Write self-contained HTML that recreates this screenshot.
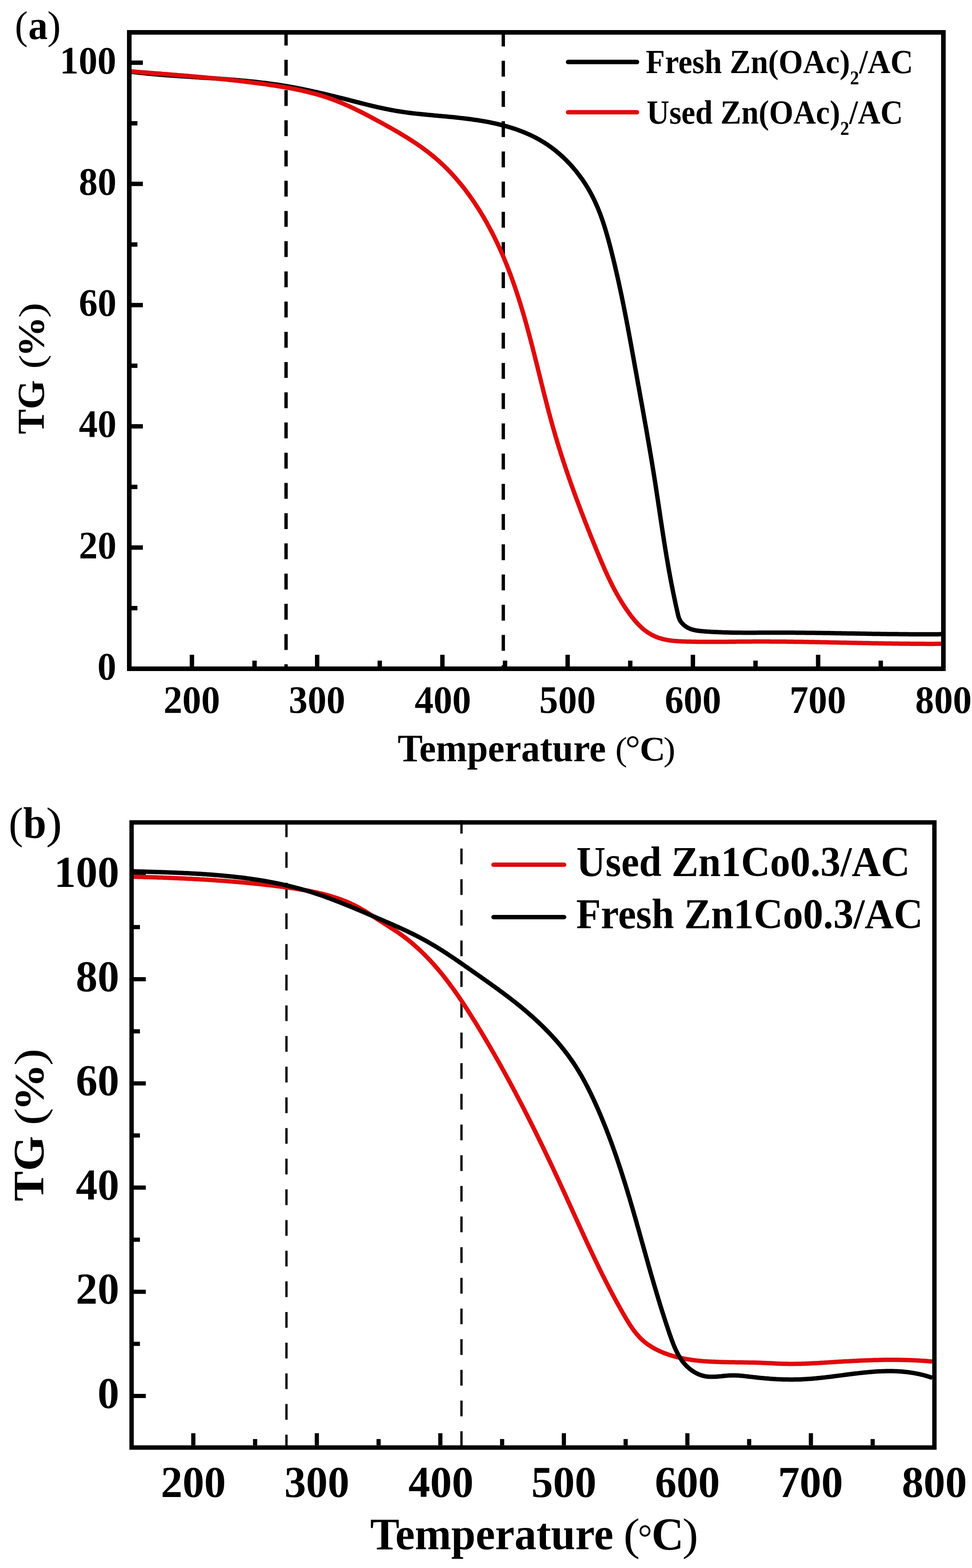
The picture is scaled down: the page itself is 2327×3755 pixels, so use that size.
<!DOCTYPE html>
<html><head><meta charset="utf-8"><title>TG curves</title>
<style>html,body{margin:0;padding:0;background:#fff;}svg{display:block;}</style>
</head><body>
<svg xmlns="http://www.w3.org/2000/svg" width="2327" height="3755" viewBox="0 0 2327 3755">
<rect width="2327" height="3755" fill="#fff"/>
<g stroke="#000" stroke-width="8" fill="none">
<line x1="684.8" y1="72" x2="684.8" y2="1601" stroke-dasharray="38 34.37" stroke-dashoffset="1"/>
<line x1="1204.9" y1="73.15" x2="1204.9" y2="1601" stroke-dasharray="38 34.37"/>
</g>
<path d="M310.0,171.5 L314.0,172.0 L317.9,172.4 L321.9,172.9 L325.8,173.3 L329.8,173.8 L333.7,174.2 L337.7,174.6 L341.7,175.0 L345.6,175.4 L349.6,175.8 L353.6,176.2 L357.5,176.6 L361.5,177.0 L365.5,177.3 L369.5,177.7 L373.4,178.0 L377.4,178.4 L381.4,178.7 L385.4,179.0 L389.4,179.3 L393.3,179.7 L397.3,180.0 L401.3,180.3 L405.3,180.6 L409.3,180.9 L413.3,181.1 L417.3,181.4 L421.3,181.7 L425.3,182.0 L429.2,182.3 L433.2,182.5 L437.2,182.8 L441.2,183.1 L445.2,183.3 L449.2,183.6 L453.2,183.8 L457.2,184.1 L461.2,184.4 L465.2,184.6 L469.2,184.9 L473.2,185.1 L477.2,185.4 L481.2,185.7 L485.2,185.9 L489.2,186.2 L493.2,186.4 L497.2,186.7 L501.2,187.0 L505.2,187.2 L509.2,187.5 L513.2,187.8 L517.2,188.0 L521.2,188.3 L525.2,188.6 L529.2,188.9 L533.2,189.2 L537.2,189.5 L541.1,189.8 L545.1,190.1 L549.1,190.4 L553.1,190.7 L557.1,191.0 L561.1,191.3 L565.1,191.7 L569.1,192.0 L573.0,192.3 L577.0,192.7 L581.0,193.1 L585.0,193.4 L589.0,193.8 L592.9,194.2 L596.9,194.6 L600.9,195.0 L604.9,195.4 L608.8,195.8 L612.8,196.2 L616.8,196.7 L620.7,197.1 L624.7,197.6 L628.7,198.1 L632.6,198.5 L636.6,199.0 L640.5,199.5 L644.5,200.1 L648.4,200.6 L652.4,201.1 L656.3,201.7 L660.3,202.2 L664.2,202.8 L668.1,203.4 L672.1,204.0 L676.0,204.7 L679.9,205.3 L683.9,205.9 L687.8,206.6 L691.7,207.3 L695.6,208.0 L699.6,208.7 L703.5,209.4 L707.4,210.1 L711.3,210.9 L715.2,211.7 L719.1,212.4 L723.0,213.2 L726.9,214.0 L730.8,214.8 L734.7,215.6 L738.6,216.4 L742.5,217.3 L746.4,218.1 L750.3,219.0 L754.2,219.9 L758.1,220.7 L761.9,221.6 L765.8,222.5 L769.7,223.4 L773.6,224.3 L777.5,225.2 L781.4,226.1 L785.3,227.1 L789.1,228.0 L793.0,229.0 L796.9,229.9 L800.8,230.9 L804.7,231.8 L808.5,232.8 L812.4,233.8 L816.3,234.7 L820.2,235.7 L824.0,236.7 L827.9,237.7 L831.8,238.7 L835.7,239.7 L839.6,240.7 L843.4,241.6 L847.3,242.6 L851.2,243.6 L855.1,244.6 L859.0,245.6 L862.8,246.6 L866.7,247.6 L870.6,248.6 L874.5,249.5 L878.4,250.5 L882.3,251.5 L886.1,252.4 L890.0,253.3 L893.9,254.3 L897.8,255.2 L901.7,256.1 L905.6,257.0 L909.5,257.8 L913.4,258.7 L917.3,259.5 L921.2,260.3 L925.1,261.2 L929.0,261.9 L932.9,262.7 L936.8,263.5 L940.7,264.2 L944.6,264.9 L948.6,265.6 L952.5,266.2 L956.4,266.8 L960.3,267.4 L964.2,268.0 L968.2,268.6 L972.1,269.1 L976.0,269.7 L980.0,270.2 L983.9,270.7 L987.8,271.2 L991.8,271.6 L995.7,272.1 L999.7,272.5 L1003.6,272.9 L1007.6,273.3 L1011.5,273.7 L1015.5,274.1 L1019.4,274.5 L1023.4,274.9 L1027.4,275.3 L1031.3,275.6 L1035.3,276.0 L1039.3,276.4 L1043.2,276.7 L1047.2,277.1 L1051.2,277.5 L1055.2,277.8 L1059.1,278.2 L1063.1,278.5 L1067.1,278.9 L1071.1,279.3 L1075.1,279.7 L1079.1,280.0 L1083.1,280.4 L1087.1,280.8 L1091.1,281.3 L1095.1,281.7 L1099.1,282.1 L1103.1,282.6 L1107.1,283.0 L1111.1,283.5 L1115.1,284.0 L1119.1,284.5 L1123.1,285.0 L1127.1,285.5 L1131.1,286.1 L1135.1,286.7 L1139.1,287.2 L1143.1,287.8 L1147.1,288.5 L1151.1,289.1 L1155.1,289.8 L1159.1,290.5 L1163.0,291.2 L1167.0,291.9 L1171.0,292.7 L1174.9,293.5 L1178.9,294.3 L1182.8,295.2 L1186.7,296.0 L1190.6,296.9 L1194.5,297.8 L1198.4,298.8 L1202.3,299.8 L1206.2,300.8 L1210.0,301.8 L1213.9,302.9 L1217.7,304.0 L1221.5,305.2 L1225.3,306.3 L1229.1,307.6 L1232.9,308.8 L1236.7,310.1 L1240.4,311.4 L1244.1,312.8 L1247.8,314.2 L1251.5,315.6 L1255.2,317.1 L1258.8,318.6 L1262.5,320.2 L1266.1,321.8 L1269.7,323.4 L1273.2,325.1 L1276.8,326.8 L1280.3,328.6 L1283.8,330.4 L1287.3,332.3 L1290.7,334.2 L1294.1,336.2 L1297.5,338.2 L1300.9,340.2 L1304.3,342.3 L1307.6,344.5 L1310.9,346.7 L1314.2,349.0 L1317.4,351.3 L1320.6,353.6 L1323.8,356.0 L1327.0,358.4 L1330.1,360.9 L1333.2,363.4 L1336.2,366.0 L1339.3,368.6 L1342.3,371.3 L1345.3,374.0 L1348.2,376.7 L1351.1,379.4 L1354.0,382.2 L1356.8,385.1 L1359.6,388.0 L1362.4,390.9 L1365.2,393.8 L1367.9,396.8 L1370.5,399.8 L1373.2,402.9 L1375.8,406.0 L1378.4,409.1 L1380.9,412.2 L1383.4,415.4 L1385.8,418.6 L1388.2,421.8 L1390.6,425.1 L1393.0,428.3 L1395.3,431.6 L1397.5,435.0 L1399.8,438.3 L1401.9,441.7 L1404.1,445.1 L1406.2,448.5 L1408.2,452.0 L1410.3,455.5 L1412.2,458.9 L1414.2,462.5 L1416.1,466.0 L1417.9,469.5 L1419.7,473.1 L1421.5,476.7 L1423.2,480.2 L1424.9,483.9 L1426.5,487.5 L1428.1,491.1 L1429.7,494.8 L1431.3,498.4 L1432.8,502.1 L1434.2,505.8 L1435.7,509.5 L1437.1,513.2 L1438.5,517.0 L1439.8,520.7 L1441.2,524.4 L1442.5,528.2 L1443.7,532.0 L1445.0,535.8 L1446.2,539.5 L1447.4,543.3 L1448.6,547.1 L1449.8,551.0 L1450.9,554.8 L1452.0,558.6 L1453.1,562.4 L1454.2,566.3 L1455.3,570.1 L1456.4,574.0 L1457.4,577.8 L1458.4,581.7 L1459.5,585.5 L1460.5,589.4 L1461.5,593.3 L1462.5,597.1 L1463.5,601.0 L1464.4,604.9 L1465.4,608.8 L1466.4,612.6 L1467.3,616.5 L1468.3,620.4 L1469.2,624.3 L1470.2,628.1 L1471.1,632.0 L1472.0,635.9 L1472.9,639.8 L1473.8,643.7 L1474.7,647.6 L1475.6,651.5 L1476.5,655.4 L1477.4,659.3 L1478.3,663.2 L1479.2,667.1 L1480.0,671.0 L1480.9,674.9 L1481.7,678.8 L1482.6,682.7 L1483.4,686.6 L1484.3,690.5 L1485.1,694.4 L1485.9,698.3 L1486.8,702.2 L1487.6,706.1 L1488.4,710.0 L1489.2,713.9 L1490.0,717.8 L1490.8,721.8 L1491.6,725.7 L1492.4,729.6 L1493.2,733.5 L1493.9,737.4 L1494.7,741.4 L1495.5,745.3 L1496.3,749.2 L1497.0,753.1 L1497.8,757.0 L1498.6,761.0 L1499.3,764.9 L1500.1,768.8 L1500.8,772.7 L1501.6,776.7 L1502.3,780.6 L1503.1,784.5 L1503.8,788.5 L1504.5,792.4 L1505.3,796.3 L1506.0,800.2 L1506.7,804.2 L1507.5,808.1 L1508.2,812.0 L1508.9,816.0 L1509.6,819.9 L1510.4,823.8 L1511.1,827.8 L1511.8,831.7 L1512.5,835.6 L1513.2,839.6 L1513.9,843.5 L1514.6,847.4 L1515.4,851.4 L1516.1,855.3 L1516.8,859.2 L1517.5,863.2 L1518.2,867.1 L1518.9,871.0 L1519.6,875.0 L1520.3,878.9 L1521.0,882.8 L1521.7,886.8 L1522.5,890.7 L1523.2,894.6 L1523.9,898.6 L1524.6,902.5 L1525.3,906.4 L1526.0,910.4 L1526.7,914.3 L1527.4,918.2 L1528.1,922.2 L1528.9,926.1 L1529.6,930.0 L1530.3,934.0 L1531.0,937.9 L1531.7,941.8 L1532.4,945.8 L1533.1,949.7 L1533.8,953.6 L1534.5,957.6 L1535.3,961.5 L1536.0,965.4 L1536.7,969.4 L1537.4,973.3 L1538.1,977.2 L1538.8,981.2 L1539.5,985.1 L1540.2,989.0 L1540.9,993.0 L1541.6,996.9 L1542.3,1000.8 L1543.0,1004.8 L1543.7,1008.7 L1544.4,1012.6 L1545.1,1016.6 L1545.8,1020.5 L1546.5,1024.4 L1547.2,1028.4 L1547.9,1032.3 L1548.6,1036.2 L1549.3,1040.2 L1549.9,1044.1 L1550.6,1048.0 L1551.3,1052.0 L1552.0,1055.9 L1552.7,1059.8 L1553.4,1063.8 L1554.0,1067.7 L1554.7,1071.6 L1555.4,1075.6 L1556.0,1079.5 L1556.7,1083.4 L1557.4,1087.4 L1558.0,1091.3 L1558.7,1095.3 L1559.4,1099.2 L1560.0,1103.1 L1560.7,1107.1 L1561.3,1111.0 L1562.0,1114.9 L1562.6,1118.9 L1563.2,1122.8 L1563.9,1126.8 L1564.5,1130.7 L1565.1,1134.7 L1565.8,1138.6 L1566.4,1142.5 L1567.0,1146.5 L1567.6,1150.4 L1568.3,1154.4 L1568.9,1158.3 L1569.5,1162.3 L1570.1,1166.2 L1570.7,1170.1 L1571.3,1174.1 L1571.9,1178.0 L1572.5,1182.0 L1573.1,1185.9 L1573.7,1189.9 L1574.3,1193.8 L1574.9,1197.8 L1575.5,1201.7 L1576.1,1205.7 L1576.7,1209.6 L1577.3,1213.6 L1577.9,1217.5 L1578.5,1221.5 L1579.1,1225.4 L1579.6,1229.4 L1580.2,1233.3 L1580.8,1237.3 L1581.4,1241.2 L1582.0,1245.2 L1582.6,1249.1 L1583.2,1253.1 L1583.8,1257.0 L1584.4,1261.0 L1585.0,1264.9 L1585.6,1268.9 L1586.2,1272.8 L1586.8,1276.8 L1587.4,1280.7 L1588.1,1284.7 L1588.7,1288.6 L1589.3,1292.5 L1589.9,1296.5 L1590.5,1300.4 L1591.2,1304.4 L1591.8,1308.3 L1592.4,1312.3 L1593.1,1316.2 L1593.7,1320.2 L1594.4,1324.1 L1595.0,1328.1 L1595.7,1332.0 L1596.3,1335.9 L1597.0,1339.9 L1597.7,1343.8 L1598.4,1347.8 L1599.0,1351.7 L1599.7,1355.6 L1600.4,1359.6 L1601.1,1363.5 L1601.8,1367.5 L1602.5,1371.4 L1603.3,1375.3 L1604.0,1379.3 L1604.7,1383.2 L1605.4,1387.1 L1606.2,1391.1 L1606.9,1395.0 L1607.7,1398.9 L1608.5,1402.9 L1609.3,1406.8 L1610.0,1410.7 L1610.8,1414.6 L1611.6,1418.6 L1612.4,1422.5 L1613.2,1426.4 L1614.0,1430.3 L1614.9,1434.2 L1615.7,1438.1 L1616.5,1442.0 L1617.3,1445.9 L1618.2,1449.7 L1619.0,1453.6 L1619.9,1457.4 L1620.7,1461.3 L1621.6,1465.1 L1622.5,1468.9 L1623.3,1472.7 L1624.3,1476.5 L1625.5,1480.2 L1627.0,1483.8 L1628.8,1487.2 L1631.2,1490.5 L1633.9,1493.6 L1636.9,1496.5 L1640.2,1499.2 L1643.6,1501.5 L1647.2,1503.6 L1650.9,1505.3 L1654.6,1506.8 L1658.4,1507.9 L1662.2,1508.9 L1666.1,1509.7 L1670.0,1510.3 L1674.0,1510.8 L1677.9,1511.2 L1681.9,1511.6 L1685.8,1511.9 L1689.8,1512.2 L1693.8,1512.5 L1697.7,1512.7 L1701.7,1513.0 L1705.7,1513.2 L1709.6,1513.4 L1713.6,1513.6 L1717.6,1513.8 L1721.6,1514.0 L1725.6,1514.1 L1729.5,1514.3 L1733.5,1514.4 L1737.5,1514.5 L1741.5,1514.6 L1745.5,1514.7 L1749.5,1514.8 L1753.5,1514.9 L1757.5,1515.0 L1761.5,1515.0 L1765.5,1515.1 L1769.4,1515.1 L1773.4,1515.1 L1777.4,1515.2 L1781.4,1515.2 L1785.4,1515.2 L1789.4,1515.2 L1793.4,1515.2 L1797.4,1515.2 L1801.4,1515.2 L1805.4,1515.2 L1809.4,1515.2 L1813.4,1515.1 L1817.4,1515.1 L1821.5,1515.1 L1825.5,1515.1 L1829.5,1515.1 L1833.5,1515.1 L1837.5,1515.0 L1841.5,1515.0 L1845.5,1515.0 L1849.5,1515.0 L1853.5,1515.0 L1857.5,1515.0 L1861.5,1515.0 L1865.5,1515.0 L1869.5,1515.0 L1873.5,1515.0 L1877.5,1515.0 L1881.5,1515.0 L1885.5,1515.0 L1889.5,1515.1 L1893.5,1515.1 L1897.5,1515.1 L1901.5,1515.1 L1905.5,1515.2 L1909.5,1515.2 L1913.5,1515.2 L1917.5,1515.3 L1921.4,1515.3 L1925.4,1515.3 L1929.4,1515.4 L1933.4,1515.4 L1937.4,1515.5 L1941.4,1515.5 L1945.4,1515.6 L1949.4,1515.6 L1953.4,1515.7 L1957.4,1515.7 L1961.4,1515.8 L1965.4,1515.8 L1969.4,1515.9 L1973.4,1516.0 L1977.4,1516.0 L1981.4,1516.1 L1985.4,1516.1 L1989.4,1516.2 L1993.4,1516.3 L1997.3,1516.3 L2001.3,1516.4 L2005.3,1516.5 L2009.3,1516.5 L2013.3,1516.6 L2017.3,1516.7 L2021.3,1516.7 L2025.3,1516.8 L2029.3,1516.9 L2033.3,1516.9 L2037.3,1517.0 L2041.3,1517.1 L2045.3,1517.1 L2049.3,1517.2 L2053.2,1517.3 L2057.2,1517.3 L2061.2,1517.4 L2065.2,1517.5 L2069.2,1517.5 L2073.2,1517.6 L2077.2,1517.7 L2081.2,1517.7 L2085.2,1517.8 L2089.2,1517.9 L2093.2,1517.9 L2097.2,1518.0 L2101.2,1518.0 L2105.2,1518.1 L2109.1,1518.2 L2113.1,1518.2 L2117.1,1518.3 L2121.1,1518.3 L2125.1,1518.4 L2129.1,1518.4 L2133.1,1518.5 L2137.1,1518.5 L2141.1,1518.6 L2145.1,1518.6 L2149.1,1518.6 L2153.1,1518.7 L2157.1,1518.7 L2161.1,1518.8 L2165.1,1518.8 L2169.1,1518.8 L2173.0,1518.8 L2177.0,1518.9 L2181.0,1518.9 L2185.0,1518.9 L2189.0,1518.9 L2193.0,1518.9 L2197.0,1519.0 L2201.0,1519.0 L2205.0,1519.0 L2209.0,1519.0 L2213.0,1519.0 L2217.0,1519.0 L2221.0,1519.0 L2225.0,1519.0 L2229.0,1518.9 L2233.0,1518.9 L2237.0,1518.9 L2241.0,1518.9 L2245.0,1518.9 L2249.0,1518.8 L2253.0,1518.8" fill="none" stroke="#000" stroke-width="10.5" stroke-linejoin="round"/>
<path d="M310.0,170.6 L314.0,170.9 L318.0,171.2 L322.0,171.6 L326.0,171.9 L329.9,172.2 L333.9,172.5 L337.9,172.9 L341.9,173.2 L345.9,173.5 L349.9,173.8 L353.9,174.1 L357.9,174.4 L361.8,174.8 L365.8,175.1 L369.8,175.4 L373.8,175.7 L377.8,176.0 L381.8,176.3 L385.8,176.6 L389.7,177.0 L393.7,177.3 L397.7,177.6 L401.7,177.9 L405.7,178.2 L409.7,178.6 L413.6,178.9 L417.6,179.2 L421.6,179.5 L425.6,179.9 L429.6,180.2 L433.5,180.5 L437.5,180.8 L441.5,181.2 L445.5,181.5 L449.5,181.8 L453.5,182.2 L457.4,182.5 L461.4,182.9 L465.4,183.2 L469.4,183.6 L473.3,183.9 L477.3,184.3 L481.3,184.6 L485.3,185.0 L489.3,185.3 L493.2,185.7 L497.2,186.1 L501.2,186.5 L505.2,186.8 L509.1,187.2 L513.1,187.6 L517.1,188.0 L521.1,188.4 L525.0,188.8 L529.0,189.2 L533.0,189.6 L537.0,190.0 L540.9,190.4 L544.9,190.8 L548.9,191.2 L552.8,191.7 L556.8,192.1 L560.8,192.5 L564.8,193.0 L568.7,193.4 L572.7,193.9 L576.7,194.3 L580.6,194.8 L584.6,195.3 L588.6,195.7 L592.5,196.2 L596.5,196.7 L600.5,197.2 L604.4,197.7 L608.4,198.2 L612.4,198.7 L616.3,199.2 L620.3,199.8 L624.3,200.3 L628.2,200.8 L632.2,201.4 L636.2,201.9 L640.1,202.5 L644.1,203.1 L648.1,203.7 L652.0,204.2 L656.0,204.8 L659.9,205.4 L663.9,206.1 L667.9,206.7 L671.8,207.3 L675.8,208.0 L679.7,208.6 L683.6,209.3 L687.6,210.0 L691.5,210.7 L695.5,211.4 L699.4,212.2 L703.3,212.9 L707.2,213.7 L711.1,214.5 L715.1,215.3 L719.0,216.1 L722.9,217.0 L726.7,217.9 L730.6,218.8 L734.5,219.7 L738.4,220.6 L742.3,221.6 L746.1,222.6 L750.0,223.6 L753.8,224.6 L757.6,225.7 L761.5,226.8 L765.3,227.9 L769.1,229.0 L772.9,230.2 L776.7,231.4 L780.5,232.6 L784.2,233.9 L788.0,235.2 L791.7,236.5 L795.5,237.9 L799.2,239.3 L802.9,240.7 L806.6,242.1 L810.3,243.6 L814.0,245.1 L817.7,246.6 L821.4,248.2 L825.0,249.8 L828.7,251.4 L832.3,253.0 L836.0,254.6 L839.6,256.3 L843.2,258.0 L846.9,259.7 L850.5,261.4 L854.1,263.2 L857.7,264.9 L861.3,266.7 L864.8,268.5 L868.4,270.3 L872.0,272.2 L875.5,274.0 L879.1,275.9 L882.7,277.7 L886.2,279.6 L889.8,281.5 L893.3,283.4 L896.8,285.3 L900.4,287.2 L903.9,289.1 L907.4,291.0 L911.0,292.9 L914.5,294.8 L918.0,296.8 L921.5,298.7 L925.0,300.7 L928.5,302.6 L932.0,304.6 L935.5,306.5 L939.0,308.5 L942.4,310.5 L945.9,312.5 L949.4,314.5 L952.8,316.5 L956.3,318.6 L959.7,320.6 L963.1,322.7 L966.5,324.7 L969.9,326.8 L973.3,328.9 L976.7,331.0 L980.1,333.1 L983.4,335.3 L986.8,337.5 L990.1,339.6 L993.4,341.8 L996.7,344.0 L1000.0,346.3 L1003.2,348.5 L1006.5,350.8 L1009.7,353.1 L1012.9,355.4 L1016.1,357.8 L1019.3,360.2 L1022.5,362.5 L1025.6,365.0 L1028.8,367.4 L1031.9,369.9 L1034.9,372.4 L1038.0,374.9 L1041.1,377.4 L1044.1,380.0 L1047.1,382.6 L1050.1,385.2 L1053.0,387.9 L1055.9,390.6 L1058.8,393.3 L1061.7,396.0 L1064.6,398.8 L1067.4,401.6 L1070.3,404.4 L1073.1,407.3 L1075.8,410.1 L1078.6,413.0 L1081.3,416.0 L1084.0,418.9 L1086.7,421.9 L1089.4,424.9 L1092.0,427.9 L1094.6,430.9 L1097.2,434.0 L1099.8,437.1 L1102.4,440.2 L1104.9,443.3 L1107.4,446.4 L1109.9,449.6 L1112.4,452.7 L1114.8,455.9 L1117.2,459.2 L1119.6,462.4 L1122.0,465.6 L1124.4,468.9 L1126.7,472.2 L1129.0,475.5 L1131.3,478.8 L1133.6,482.1 L1135.9,485.4 L1138.1,488.8 L1140.3,492.2 L1142.5,495.5 L1144.7,498.9 L1146.8,502.3 L1149.0,505.7 L1151.1,509.2 L1153.2,512.6 L1155.2,516.0 L1157.3,519.5 L1159.3,522.9 L1161.3,526.4 L1163.3,529.9 L1165.3,533.4 L1167.2,536.9 L1169.1,540.4 L1171.0,543.9 L1172.9,547.4 L1174.8,551.0 L1176.7,554.5 L1178.5,558.0 L1180.3,561.6 L1182.1,565.2 L1183.9,568.7 L1185.6,572.3 L1187.4,575.9 L1189.1,579.5 L1190.8,583.1 L1192.5,586.7 L1194.2,590.3 L1195.8,593.9 L1197.5,597.6 L1199.1,601.2 L1200.7,604.8 L1202.3,608.5 L1203.9,612.2 L1205.4,615.8 L1207.0,619.5 L1208.5,623.2 L1210.0,626.8 L1211.5,630.5 L1213.0,634.2 L1214.5,637.9 L1215.9,641.6 L1217.4,645.3 L1218.8,649.1 L1220.2,652.8 L1221.6,656.5 L1223.0,660.3 L1224.4,664.0 L1225.7,667.7 L1227.1,671.5 L1228.4,675.2 L1229.8,679.0 L1231.1,682.8 L1232.4,686.5 L1233.7,690.3 L1234.9,694.1 L1236.2,697.9 L1237.5,701.7 L1238.7,705.4 L1239.9,709.2 L1241.2,713.0 L1242.4,716.8 L1243.6,720.6 L1244.8,724.5 L1246.0,728.3 L1247.1,732.1 L1248.3,735.9 L1249.4,739.7 L1250.6,743.6 L1251.7,747.4 L1252.9,751.2 L1254.0,755.1 L1255.1,758.9 L1256.2,762.7 L1257.3,766.6 L1258.4,770.4 L1259.4,774.3 L1260.5,778.1 L1261.6,782.0 L1262.6,785.9 L1263.7,789.7 L1264.7,793.6 L1265.8,797.4 L1266.8,801.3 L1267.9,805.2 L1268.9,809.0 L1269.9,812.9 L1270.9,816.8 L1271.9,820.7 L1272.9,824.5 L1273.9,828.4 L1274.9,832.3 L1275.9,836.2 L1276.9,840.0 L1277.9,843.9 L1278.9,847.8 L1279.9,851.7 L1280.8,855.6 L1281.8,859.5 L1282.8,863.4 L1283.8,867.2 L1284.7,871.1 L1285.7,875.0 L1286.7,878.9 L1287.6,882.8 L1288.6,886.7 L1289.6,890.6 L1290.5,894.5 L1291.5,898.3 L1292.5,902.2 L1293.4,906.1 L1294.4,910.0 L1295.4,913.9 L1296.3,917.8 L1297.3,921.7 L1298.3,925.5 L1299.2,929.4 L1300.2,933.3 L1301.2,937.2 L1302.2,941.1 L1303.1,945.0 L1304.1,948.8 L1305.1,952.7 L1306.1,956.6 L1307.1,960.5 L1308.1,964.3 L1309.1,968.2 L1310.1,972.1 L1311.1,976.0 L1312.1,979.8 L1313.1,983.7 L1314.1,987.6 L1315.2,991.4 L1316.2,995.3 L1317.2,999.1 L1318.3,1003.0 L1319.3,1006.8 L1320.4,1010.7 L1321.5,1014.5 L1322.5,1018.4 L1323.6,1022.2 L1324.7,1026.1 L1325.8,1029.9 L1326.9,1033.7 L1328.0,1037.6 L1329.1,1041.4 L1330.2,1045.2 L1331.4,1049.1 L1332.5,1052.9 L1333.7,1056.7 L1334.8,1060.5 L1336.0,1064.3 L1337.1,1068.1 L1338.3,1071.9 L1339.5,1075.7 L1340.7,1079.5 L1341.9,1083.3 L1343.1,1087.1 L1344.3,1090.9 L1345.5,1094.7 L1346.7,1098.5 L1348.0,1102.3 L1349.2,1106.1 L1350.5,1109.9 L1351.7,1113.6 L1353.0,1117.4 L1354.2,1121.2 L1355.5,1125.0 L1356.8,1128.7 L1358.1,1132.5 L1359.3,1136.3 L1360.6,1140.1 L1361.9,1143.8 L1363.3,1147.6 L1364.6,1151.3 L1365.9,1155.1 L1367.2,1158.9 L1368.5,1162.6 L1369.9,1166.4 L1371.2,1170.1 L1372.6,1173.9 L1373.9,1177.6 L1375.3,1181.4 L1376.7,1185.1 L1378.0,1188.9 L1379.4,1192.6 L1380.8,1196.4 L1382.2,1200.1 L1383.6,1203.8 L1385.0,1207.6 L1386.4,1211.3 L1387.8,1215.1 L1389.2,1218.8 L1390.6,1222.5 L1392.0,1226.3 L1393.5,1230.0 L1394.9,1233.7 L1396.3,1237.5 L1397.8,1241.2 L1399.2,1244.9 L1400.7,1248.7 L1402.1,1252.4 L1403.6,1256.1 L1405.1,1259.8 L1406.5,1263.6 L1408.0,1267.3 L1409.5,1271.0 L1411.0,1274.7 L1412.4,1278.5 L1413.9,1282.2 L1415.4,1285.9 L1416.9,1289.6 L1418.4,1293.4 L1419.9,1297.1 L1421.4,1300.8 L1423.0,1304.5 L1424.5,1308.3 L1426.0,1312.0 L1427.5,1315.7 L1429.1,1319.4 L1430.6,1323.1 L1432.1,1326.9 L1433.7,1330.6 L1435.2,1334.3 L1436.8,1338.0 L1438.3,1341.7 L1439.9,1345.4 L1441.5,1349.1 L1443.1,1352.8 L1444.7,1356.5 L1446.3,1360.2 L1447.9,1363.9 L1449.6,1367.6 L1451.2,1371.2 L1452.9,1374.9 L1454.6,1378.6 L1456.3,1382.2 L1458.0,1385.8 L1459.8,1389.4 L1461.5,1393.1 L1463.3,1396.7 L1465.1,1400.3 L1466.9,1403.8 L1468.7,1407.4 L1470.6,1410.9 L1472.5,1414.5 L1474.4,1418.0 L1476.3,1421.5 L1478.3,1425.0 L1480.3,1428.5 L1482.3,1432.0 L1484.3,1435.4 L1486.4,1438.8 L1488.5,1442.2 L1490.6,1445.6 L1492.7,1449.0 L1494.9,1452.4 L1497.2,1455.7 L1499.4,1459.0 L1501.7,1462.3 L1504.0,1465.6 L1506.4,1468.8 L1508.8,1472.1 L1511.2,1475.3 L1513.6,1478.4 L1516.2,1481.6 L1518.7,1484.7 L1521.3,1487.7 L1523.9,1490.7 L1526.6,1493.7 L1529.4,1496.5 L1532.2,1499.3 L1535.0,1502.0 L1537.9,1504.7 L1540.9,1507.2 L1543.9,1509.6 L1547.0,1511.9 L1550.2,1514.1 L1553.4,1516.2 L1556.7,1518.2 L1560.1,1520.1 L1563.5,1521.8 L1566.9,1523.5 L1570.4,1525.0 L1574.0,1526.4 L1577.6,1527.7 L1581.3,1528.8 L1585.1,1529.9 L1588.8,1530.8 L1592.7,1531.7 L1596.5,1532.4 L1600.4,1533.1 L1604.3,1533.7 L1608.3,1534.2 L1612.3,1534.6 L1616.3,1535.0 L1620.3,1535.3 L1624.3,1535.6 L1628.4,1535.8 L1632.5,1536.0 L1636.5,1536.2 L1640.6,1536.3 L1644.7,1536.4 L1648.8,1536.5 L1652.8,1536.6 L1656.9,1536.7 L1661.0,1536.8 L1665.0,1536.8 L1669.1,1536.9 L1673.1,1536.9 L1677.2,1537.0 L1681.2,1537.0 L1685.2,1537.0 L1689.3,1537.0 L1693.3,1537.1 L1697.4,1537.1 L1701.4,1537.1 L1705.4,1537.1 L1709.4,1537.1 L1713.4,1537.0 L1717.5,1537.0 L1721.5,1537.0 L1725.5,1537.0 L1729.5,1536.9 L1733.5,1536.9 L1737.5,1536.9 L1741.5,1536.9 L1745.5,1536.8 L1749.5,1536.8 L1753.5,1536.7 L1757.5,1536.7 L1761.5,1536.7 L1765.5,1536.6 L1769.5,1536.6 L1773.5,1536.5 L1777.5,1536.5 L1781.5,1536.5 L1785.5,1536.4 L1789.5,1536.4 L1793.5,1536.4 L1797.5,1536.4 L1801.5,1536.3 L1805.5,1536.3 L1809.5,1536.3 L1813.5,1536.3 L1817.5,1536.3 L1821.5,1536.3 L1825.5,1536.3 L1829.5,1536.3 L1833.5,1536.3 L1837.4,1536.3 L1841.4,1536.3 L1845.4,1536.4 L1849.4,1536.4 L1853.4,1536.4 L1857.4,1536.4 L1861.4,1536.5 L1865.4,1536.5 L1869.4,1536.5 L1873.4,1536.6 L1877.4,1536.6 L1881.4,1536.6 L1885.4,1536.7 L1889.4,1536.7 L1893.3,1536.8 L1897.3,1536.8 L1901.3,1536.9 L1905.3,1536.9 L1909.3,1537.0 L1913.3,1537.0 L1917.3,1537.1 L1921.3,1537.1 L1925.3,1537.2 L1929.3,1537.3 L1933.3,1537.3 L1937.3,1537.4 L1941.3,1537.5 L1945.2,1537.5 L1949.2,1537.6 L1953.2,1537.7 L1957.2,1537.8 L1961.2,1537.8 L1965.2,1537.9 L1969.2,1538.0 L1973.2,1538.1 L1977.2,1538.1 L1981.2,1538.2 L1985.2,1538.3 L1989.2,1538.4 L1993.2,1538.5 L1997.2,1538.5 L2001.1,1538.6 L2005.1,1538.7 L2009.1,1538.8 L2013.1,1538.9 L2017.1,1538.9 L2021.1,1539.0 L2025.1,1539.1 L2029.1,1539.2 L2033.1,1539.3 L2037.1,1539.4 L2041.1,1539.4 L2045.1,1539.5 L2049.1,1539.6 L2053.1,1539.7 L2057.1,1539.8 L2061.1,1539.8 L2065.1,1539.9 L2069.0,1540.0 L2073.0,1540.1 L2077.0,1540.1 L2081.0,1540.2 L2085.0,1540.3 L2089.0,1540.4 L2093.0,1540.4 L2097.0,1540.5 L2101.0,1540.6 L2105.0,1540.7 L2109.0,1540.7 L2113.0,1540.8 L2117.0,1540.9 L2121.0,1540.9 L2125.0,1541.0 L2129.0,1541.1 L2133.0,1541.1 L2137.0,1541.2 L2141.0,1541.2 L2145.0,1541.3 L2149.0,1541.3 L2153.0,1541.4 L2157.0,1541.4 L2161.0,1541.5 L2165.0,1541.5 L2169.0,1541.6 L2173.0,1541.6 L2177.0,1541.6 L2181.0,1541.7 L2185.0,1541.7 L2189.0,1541.7 L2193.0,1541.8 L2197.0,1541.8 L2201.0,1541.8 L2205.0,1541.8 L2209.0,1541.8 L2213.0,1541.8 L2217.0,1541.9 L2221.0,1541.9 L2225.0,1541.9 L2229.0,1541.9 L2233.0,1541.9 L2237.0,1541.9 L2241.0,1541.8 L2245.0,1541.8 L2249.0,1541.8 L2253.0,1541.8" fill="none" stroke="#e00a0c" stroke-width="10.5" stroke-linejoin="round"/>
<rect x="309.5" y="77.5" width="1949.0" height="1524.0" fill="none" stroke="#000" stroke-width="11"/>
<g fill="#000">
<rect x="454.2" y="1568.0" width="10.5" height="28.0"/><rect x="604.1" y="1582.0" width="10.5" height="14.0"/><rect x="754.0" y="1568.0" width="10.5" height="28.0"/><rect x="903.9" y="1582.0" width="10.5" height="14.0"/><rect x="1053.9" y="1568.0" width="10.5" height="28.0"/><rect x="1203.8" y="1582.0" width="10.5" height="14.0"/><rect x="1353.7" y="1568.0" width="10.5" height="28.0"/><rect x="1503.6" y="1582.0" width="10.5" height="14.0"/><rect x="1653.6" y="1568.0" width="10.5" height="28.0"/><rect x="1803.5" y="1582.0" width="10.5" height="14.0"/><rect x="1953.4" y="1568.0" width="10.5" height="28.0"/><rect x="2103.3" y="1582.0" width="10.5" height="14.0"/>
<rect x="315.0" y="1306.0" width="27.0" height="10.5"/><rect x="315.0" y="1015.7" width="27.0" height="10.5"/><rect x="315.0" y="725.4" width="27.0" height="10.5"/><rect x="315.0" y="435.1" width="27.0" height="10.5"/><rect x="315.0" y="144.9" width="27.0" height="10.5"/><rect x="315.0" y="1451.1" width="14.0" height="10.5"/><rect x="315.0" y="1160.8" width="14.0" height="10.5"/><rect x="315.0" y="870.6" width="14.0" height="10.5"/><rect x="315.0" y="580.3" width="14.0" height="10.5"/><rect x="315.0" y="290.0" width="14.0" height="10.5"/>
</g>
<g stroke="#000" stroke-width="5.5" fill="none">
<line x1="685.8" y1="1967" x2="685.8" y2="3466" stroke-dasharray="37.7 35.74"/>
<line x1="1104.8" y1="1964" x2="1104.8" y2="3466" stroke-dasharray="37.7 35.74" stroke-dashoffset="5.4"/>
</g>
<g fill="#000">
<rect x="457.8" y="3432.2" width="10.0" height="29.0"/><rect x="605.7" y="3446.2" width="10.0" height="15.0"/><rect x="753.5" y="3432.2" width="10.0" height="29.0"/><rect x="901.4" y="3446.2" width="10.0" height="15.0"/><rect x="1049.2" y="3432.2" width="10.0" height="29.0"/><rect x="1197.1" y="3446.2" width="10.0" height="15.0"/><rect x="1344.9" y="3432.2" width="10.0" height="29.0"/><rect x="1492.8" y="3446.2" width="10.0" height="15.0"/><rect x="1640.6" y="3432.2" width="10.0" height="29.0"/><rect x="1788.5" y="3446.2" width="10.0" height="15.0"/><rect x="1936.3" y="3432.2" width="10.0" height="29.0"/><rect x="2084.2" y="3446.2" width="10.0" height="15.0"/>
<rect x="320.0" y="3338.0" width="29.0" height="10.0"/><rect x="320.0" y="3088.5" width="29.0" height="10.0"/><rect x="320.0" y="2839.0" width="29.0" height="10.0"/><rect x="320.0" y="2589.5" width="29.0" height="10.0"/><rect x="320.0" y="2340.0" width="29.0" height="10.0"/><rect x="320.0" y="2090.5" width="29.0" height="10.0"/><rect x="320.0" y="3213.2" width="15.0" height="10.0"/><rect x="320.0" y="2963.8" width="15.0" height="10.0"/><rect x="320.0" y="2714.2" width="15.0" height="10.0"/><rect x="320.0" y="2464.8" width="15.0" height="10.0"/><rect x="320.0" y="2215.2" width="15.0" height="10.0"/>
</g>
<path d="M316.0,2099.5 L320.0,2099.6 L324.0,2099.7 L328.0,2099.8 L332.0,2099.9 L336.0,2100.0 L340.0,2100.1 L344.0,2100.2 L348.0,2100.4 L351.9,2100.5 L355.9,2100.6 L359.9,2100.7 L363.9,2100.8 L367.9,2101.0 L371.9,2101.1 L375.9,2101.2 L379.9,2101.4 L383.9,2101.5 L387.9,2101.6 L391.9,2101.8 L395.8,2101.9 L399.8,2102.1 L403.8,2102.2 L407.8,2102.4 L411.8,2102.6 L415.8,2102.7 L419.8,2102.9 L423.8,2103.1 L427.8,2103.2 L431.7,2103.4 L435.7,2103.6 L439.7,2103.8 L443.7,2104.0 L447.7,2104.2 L451.7,2104.4 L455.7,2104.6 L459.6,2104.8 L463.6,2105.0 L467.6,2105.2 L471.6,2105.4 L475.6,2105.6 L479.6,2105.9 L483.6,2106.1 L487.5,2106.3 L491.5,2106.6 L495.5,2106.8 L499.5,2107.1 L503.5,2107.3 L507.5,2107.6 L511.4,2107.8 L515.4,2108.1 L519.4,2108.4 L523.4,2108.7 L527.4,2108.9 L531.3,2109.2 L535.3,2109.5 L539.3,2109.8 L543.3,2110.1 L547.3,2110.4 L551.2,2110.7 L555.2,2111.1 L559.2,2111.4 L563.2,2111.7 L567.2,2112.1 L571.1,2112.4 L575.1,2112.8 L579.1,2113.1 L583.1,2113.5 L587.1,2113.8 L591.0,2114.2 L595.0,2114.6 L599.0,2115.0 L603.0,2115.4 L606.9,2115.8 L610.9,2116.2 L614.9,2116.6 L618.9,2117.0 L622.8,2117.4 L626.8,2117.8 L630.8,2118.3 L634.8,2118.7 L638.7,2119.2 L642.7,2119.6 L646.7,2120.1 L650.7,2120.6 L654.6,2121.0 L658.6,2121.5 L662.6,2122.0 L666.5,2122.5 L670.5,2123.0 L674.5,2123.5 L678.5,2124.0 L682.4,2124.6 L686.4,2125.1 L690.4,2125.7 L694.3,2126.2 L698.3,2126.8 L702.3,2127.4 L706.2,2127.9 L710.2,2128.5 L714.1,2129.2 L718.1,2129.8 L722.0,2130.5 L726.0,2131.1 L729.9,2131.8 L733.9,2132.5 L737.8,2133.2 L741.7,2134.0 L745.6,2134.8 L749.5,2135.6 L753.4,2136.4 L757.3,2137.2 L761.2,2138.1 L765.1,2139.0 L768.9,2139.9 L772.8,2140.9 L776.6,2141.8 L780.4,2142.8 L784.3,2143.9 L788.1,2145.0 L791.9,2146.1 L795.6,2147.2 L799.4,2148.4 L803.2,2149.6 L806.9,2150.9 L810.7,2152.1 L814.4,2153.5 L818.1,2154.8 L821.8,2156.3 L825.4,2157.7 L829.1,2159.2 L832.7,2160.7 L836.4,2162.3 L840.0,2163.9 L843.5,2165.6 L847.1,2167.3 L850.7,2169.1 L854.2,2170.9 L857.7,2172.8 L861.2,2174.7 L864.7,2176.7 L868.1,2178.7 L871.6,2180.7 L875.0,2182.8 L878.4,2184.9 L881.8,2187.1 L885.2,2189.2 L888.6,2191.4 L892.0,2193.6 L895.4,2195.8 L898.8,2198.1 L902.2,2200.3 L905.6,2202.5 L909.0,2204.7 L912.4,2206.9 L915.8,2209.1 L919.2,2211.3 L922.7,2213.5 L926.1,2215.7 L929.5,2217.8 L932.9,2220.0 L936.4,2222.2 L939.8,2224.4 L943.1,2226.6 L946.5,2228.8 L949.9,2231.0 L953.2,2233.3 L956.5,2235.6 L959.8,2237.9 L963.0,2240.2 L966.2,2242.6 L969.4,2245.0 L972.6,2247.5 L975.7,2249.9 L978.8,2252.4 L981.9,2254.9 L985.0,2257.5 L988.0,2260.0 L991.0,2262.6 L994.0,2265.2 L997.0,2267.9 L999.9,2270.5 L1002.8,2273.2 L1005.7,2275.9 L1008.6,2278.6 L1011.4,2281.4 L1014.3,2284.2 L1017.1,2286.9 L1019.8,2289.8 L1022.6,2292.6 L1025.4,2295.5 L1028.1,2298.3 L1030.8,2301.2 L1033.5,2304.2 L1036.1,2307.1 L1038.8,2310.0 L1041.4,2313.0 L1044.0,2316.0 L1046.6,2319.0 L1049.2,2322.0 L1051.7,2325.1 L1054.3,2328.1 L1056.8,2331.2 L1059.3,2334.3 L1061.8,2337.4 L1064.2,2340.5 L1066.7,2343.7 L1069.1,2346.8 L1071.5,2350.0 L1074.0,2353.2 L1076.3,2356.4 L1078.7,2359.6 L1081.1,2362.8 L1083.4,2366.0 L1085.8,2369.2 L1088.1,2372.5 L1090.4,2375.8 L1092.7,2379.0 L1095.0,2382.3 L1097.3,2385.6 L1099.5,2388.9 L1101.8,2392.2 L1104.0,2395.5 L1106.3,2398.9 L1108.5,2402.2 L1110.7,2405.6 L1112.9,2408.9 L1115.1,2412.3 L1117.3,2415.6 L1119.4,2419.0 L1121.6,2422.4 L1123.8,2425.8 L1125.9,2429.2 L1128.1,2432.6 L1130.2,2436.0 L1132.3,2439.4 L1134.4,2442.8 L1136.6,2446.2 L1138.7,2449.6 L1140.8,2453.0 L1142.9,2456.4 L1144.9,2459.9 L1147.0,2463.3 L1149.1,2466.7 L1151.2,2470.1 L1153.3,2473.6 L1155.3,2477.0 L1157.4,2480.4 L1159.4,2483.9 L1161.5,2487.3 L1163.5,2490.8 L1165.5,2494.2 L1167.6,2497.7 L1169.6,2501.1 L1171.6,2504.6 L1173.6,2508.0 L1175.6,2511.5 L1177.6,2515.0 L1179.6,2518.4 L1181.6,2521.9 L1183.6,2525.4 L1185.6,2528.8 L1187.6,2532.3 L1189.6,2535.8 L1191.5,2539.3 L1193.5,2542.7 L1195.5,2546.2 L1197.4,2549.7 L1199.4,2553.2 L1201.3,2556.7 L1203.2,2560.2 L1205.2,2563.7 L1207.1,2567.2 L1209.0,2570.7 L1211.0,2574.2 L1212.9,2577.7 L1214.8,2581.2 L1216.7,2584.7 L1218.6,2588.2 L1220.5,2591.7 L1222.4,2595.2 L1224.3,2598.7 L1226.2,2602.2 L1228.0,2605.8 L1229.9,2609.3 L1231.8,2612.8 L1233.7,2616.3 L1235.5,2619.9 L1237.4,2623.4 L1239.2,2626.9 L1241.1,2630.5 L1242.9,2634.0 L1244.8,2637.5 L1246.6,2641.1 L1248.5,2644.6 L1250.3,2648.1 L1252.1,2651.7 L1254.0,2655.2 L1255.8,2658.8 L1257.6,2662.3 L1259.4,2665.9 L1261.2,2669.4 L1263.0,2673.0 L1264.8,2676.6 L1266.6,2680.1 L1268.4,2683.7 L1270.2,2687.2 L1272.0,2690.8 L1273.8,2694.4 L1275.6,2697.9 L1277.3,2701.5 L1279.1,2705.1 L1280.9,2708.7 L1282.7,2712.2 L1284.4,2715.8 L1286.2,2719.4 L1287.9,2723.0 L1289.7,2726.6 L1291.4,2730.1 L1293.2,2733.7 L1294.9,2737.3 L1296.7,2740.9 L1298.4,2744.5 L1300.2,2748.1 L1301.9,2751.7 L1303.6,2755.3 L1305.3,2758.9 L1307.1,2762.5 L1308.8,2766.1 L1310.5,2769.7 L1312.2,2773.3 L1313.9,2776.9 L1315.7,2780.5 L1317.4,2784.1 L1319.1,2787.7 L1320.8,2791.3 L1322.5,2794.9 L1324.2,2798.5 L1325.9,2802.1 L1327.6,2805.8 L1329.3,2809.4 L1330.9,2813.0 L1332.6,2816.6 L1334.3,2820.2 L1336.0,2823.9 L1337.7,2827.5 L1339.4,2831.1 L1341.0,2834.7 L1342.7,2838.4 L1344.4,2842.0 L1346.0,2845.6 L1347.7,2849.2 L1349.4,2852.9 L1351.0,2856.5 L1352.7,2860.1 L1354.4,2863.8 L1356.0,2867.4 L1357.7,2871.1 L1359.3,2874.7 L1361.0,2878.3 L1362.6,2882.0 L1364.3,2885.6 L1365.9,2889.3 L1367.6,2892.9 L1369.2,2896.5 L1370.9,2900.2 L1372.5,2903.8 L1374.2,2907.5 L1375.8,2911.1 L1377.5,2914.7 L1379.2,2918.4 L1380.8,2922.0 L1382.5,2925.7 L1384.1,2929.3 L1385.8,2932.9 L1387.4,2936.6 L1389.1,2940.2 L1390.8,2943.9 L1392.4,2947.5 L1394.1,2951.1 L1395.8,2954.8 L1397.4,2958.4 L1399.1,2962.0 L1400.8,2965.7 L1402.4,2969.3 L1404.1,2972.9 L1405.8,2976.5 L1407.5,2980.2 L1409.2,2983.8 L1410.9,2987.4 L1412.6,2991.0 L1414.3,2994.7 L1416.0,2998.3 L1417.7,3001.9 L1419.4,3005.5 L1421.1,3009.1 L1422.8,3012.7 L1424.6,3016.3 L1426.3,3019.9 L1428.0,3023.5 L1429.8,3027.1 L1431.5,3030.7 L1433.3,3034.3 L1435.0,3037.9 L1436.8,3041.5 L1438.5,3045.1 L1440.3,3048.7 L1442.1,3052.3 L1443.9,3055.8 L1445.7,3059.4 L1447.5,3063.0 L1449.3,3066.6 L1451.1,3070.1 L1452.9,3073.7 L1454.7,3077.2 L1456.6,3080.8 L1458.4,3084.3 L1460.2,3087.9 L1462.1,3091.4 L1464.0,3095.0 L1465.8,3098.5 L1467.7,3102.0 L1469.6,3105.6 L1471.5,3109.1 L1473.4,3112.6 L1475.3,3116.1 L1477.2,3119.6 L1479.2,3123.1 L1481.1,3126.6 L1483.1,3130.1 L1485.0,3133.6 L1487.0,3137.1 L1489.0,3140.6 L1490.9,3144.0 L1492.9,3147.5 L1495.0,3151.0 L1497.0,3154.4 L1499.0,3157.9 L1501.1,3161.3 L1503.1,3164.7 L1505.2,3168.1 L1507.4,3171.5 L1509.5,3174.8 L1511.8,3178.1 L1514.0,3181.4 L1516.3,3184.6 L1518.7,3187.7 L1521.1,3190.8 L1523.5,3193.9 L1526.1,3196.9 L1528.7,3199.8 L1531.3,3202.7 L1534.1,3205.5 L1536.9,3208.2 L1539.8,3210.8 L1542.8,3213.4 L1545.9,3215.8 L1549.0,3218.2 L1552.3,3220.5 L1555.6,3222.7 L1558.9,3224.8 L1562.3,3226.9 L1565.8,3228.9 L1569.4,3230.8 L1573.0,3232.6 L1576.6,3234.4 L1580.3,3236.1 L1584.0,3237.7 L1587.8,3239.3 L1591.6,3240.8 L1595.4,3242.2 L1599.2,3243.6 L1603.1,3244.9 L1607.0,3246.1 L1610.9,3247.3 L1614.8,3248.4 L1618.8,3249.4 L1622.7,3250.4 L1626.6,3251.3 L1630.5,3252.2 L1634.5,3253.0 L1638.4,3253.8 L1642.3,3254.5 L1646.3,3255.2 L1650.2,3255.8 L1654.1,3256.4 L1658.1,3257.0 L1662.0,3257.5 L1665.9,3257.9 L1669.9,3258.4 L1673.8,3258.8 L1677.8,3259.1 L1681.7,3259.5 L1685.7,3259.8 L1689.6,3260.0 L1693.6,3260.3 L1697.5,3260.5 L1701.5,3260.7 L1705.5,3260.9 L1709.4,3261.1 L1713.4,3261.3 L1717.4,3261.4 L1721.3,3261.6 L1725.3,3261.7 L1729.3,3261.8 L1733.3,3261.9 L1737.3,3262.0 L1741.3,3262.1 L1745.3,3262.2 L1749.3,3262.2 L1753.3,3262.3 L1757.2,3262.3 L1761.2,3262.4 L1765.2,3262.5 L1769.2,3262.5 L1773.2,3262.6 L1777.2,3262.6 L1781.2,3262.7 L1785.2,3262.7 L1789.3,3262.8 L1793.3,3262.9 L1797.3,3262.9 L1801.3,3263.0 L1805.3,3263.1 L1809.3,3263.2 L1813.2,3263.3 L1817.2,3263.4 L1821.2,3263.6 L1825.2,3263.7 L1829.2,3263.9 L1833.2,3264.1 L1837.2,3264.2 L1841.2,3264.4 L1845.2,3264.6 L1849.2,3264.8 L1853.1,3265.0 L1857.1,3265.2 L1861.1,3265.4 L1865.1,3265.6 L1869.1,3265.7 L1873.0,3265.9 L1877.0,3266.0 L1881.0,3266.1 L1885.0,3266.1 L1889.0,3266.2 L1893.0,3266.2 L1896.9,3266.2 L1900.9,3266.2 L1904.9,3266.1 L1908.9,3266.1 L1912.9,3266.0 L1916.9,3265.9 L1920.9,3265.8 L1924.8,3265.7 L1928.8,3265.5 L1932.8,3265.4 L1936.8,3265.2 L1940.8,3265.0 L1944.8,3264.8 L1948.8,3264.6 L1952.8,3264.4 L1956.8,3264.2 L1960.7,3264.0 L1964.7,3263.7 L1968.7,3263.5 L1972.7,3263.3 L1976.7,3263.0 L1980.7,3262.8 L1984.7,3262.5 L1988.7,3262.3 L1992.7,3262.0 L1996.7,3261.8 L2000.6,3261.5 L2004.6,3261.3 L2008.6,3261.0 L2012.6,3260.8 L2016.6,3260.6 L2020.6,3260.3 L2024.6,3260.1 L2028.6,3259.9 L2032.6,3259.7 L2036.5,3259.5 L2040.5,3259.3 L2044.5,3259.0 L2048.5,3258.9 L2052.5,3258.7 L2056.5,3258.5 L2060.5,3258.3 L2064.4,3258.1 L2068.4,3258.0 L2072.4,3257.8 L2076.4,3257.7 L2080.4,3257.5 L2084.4,3257.4 L2088.4,3257.3 L2092.4,3257.1 L2096.3,3257.0 L2100.3,3256.9 L2104.3,3256.8 L2108.3,3256.8 L2112.3,3256.7 L2116.3,3256.6 L2120.3,3256.6 L2124.3,3256.6 L2128.2,3256.5 L2132.2,3256.5 L2136.2,3256.5 L2140.2,3256.5 L2144.2,3256.5 L2148.2,3256.6 L2152.2,3256.6 L2156.2,3256.7 L2160.2,3256.7 L2164.1,3256.8 L2168.1,3256.9 L2172.1,3257.0 L2176.1,3257.2 L2180.1,3257.3 L2184.1,3257.5 L2188.1,3257.6 L2192.1,3257.8 L2196.1,3258.0 L2200.1,3258.2 L2204.0,3258.5 L2208.0,3258.7 L2212.0,3259.0 L2216.0,3259.3 L2220.0,3259.6 L2224.0,3259.9 L2228.0,3260.2 L2232.0,3260.6" fill="none" stroke="#e00a0c" stroke-width="10.5" stroke-linejoin="round"/>
<path d="M316.0,2086.5 L320.0,2086.6 L323.9,2086.7 L327.9,2086.9 L331.9,2087.0 L335.8,2087.1 L339.8,2087.2 L343.8,2087.3 L347.7,2087.4 L351.7,2087.6 L355.7,2087.7 L359.7,2087.8 L363.7,2087.9 L367.7,2088.0 L371.6,2088.2 L375.6,2088.3 L379.6,2088.4 L383.6,2088.5 L387.6,2088.7 L391.6,2088.8 L395.6,2088.9 L399.6,2089.1 L403.6,2089.2 L407.6,2089.4 L411.6,2089.5 L415.6,2089.7 L419.6,2089.8 L423.6,2090.0 L427.6,2090.2 L431.6,2090.3 L435.6,2090.5 L439.6,2090.7 L443.7,2090.9 L447.7,2091.1 L451.7,2091.3 L455.7,2091.5 L459.7,2091.7 L463.7,2091.9 L467.7,2092.1 L471.7,2092.4 L475.7,2092.6 L479.7,2092.8 L483.7,2093.1 L487.7,2093.4 L491.7,2093.6 L495.8,2093.9 L499.8,2094.2 L503.8,2094.5 L507.8,2094.8 L511.8,2095.1 L515.8,2095.4 L519.8,2095.7 L523.8,2096.1 L527.8,2096.4 L531.8,2096.7 L535.8,2097.1 L539.8,2097.5 L543.7,2097.9 L547.7,2098.3 L551.7,2098.7 L555.7,2099.1 L559.7,2099.5 L563.7,2100.0 L567.7,2100.4 L571.6,2100.9 L575.6,2101.3 L579.6,2101.8 L583.6,2102.3 L587.5,2102.8 L591.5,2103.4 L595.5,2103.9 L599.4,2104.4 L603.4,2105.0 L607.3,2105.6 L611.3,2106.2 L615.3,2106.8 L619.2,2107.4 L623.1,2108.0 L627.1,2108.7 L631.0,2109.3 L635.0,2110.0 L638.9,2110.7 L642.8,2111.4 L646.7,2112.1 L650.7,2112.9 L654.6,2113.6 L658.5,2114.4 L662.4,2115.2 L666.3,2116.0 L670.2,2116.8 L674.1,2117.6 L678.0,2118.5 L681.9,2119.4 L685.8,2120.3 L689.7,2121.2 L693.5,2122.1 L697.4,2123.0 L701.3,2124.0 L705.1,2125.0 L709.0,2126.0 L712.8,2127.0 L716.7,2128.0 L720.5,2129.1 L724.4,2130.2 L728.2,2131.3 L732.0,2132.4 L735.8,2133.5 L739.6,2134.7 L743.5,2135.8 L747.3,2137.0 L751.1,2138.3 L754.8,2139.5 L758.6,2140.7 L762.4,2142.0 L766.2,2143.3 L770.0,2144.6 L773.7,2145.9 L777.5,2147.3 L781.3,2148.6 L785.0,2150.0 L788.8,2151.4 L792.5,2152.8 L796.3,2154.2 L800.0,2155.6 L803.7,2157.0 L807.5,2158.5 L811.2,2159.9 L814.9,2161.4 L818.6,2162.9 L822.4,2164.4 L826.1,2165.9 L829.8,2167.4 L833.5,2168.9 L837.2,2170.4 L840.9,2171.9 L844.6,2173.5 L848.3,2175.0 L852.0,2176.6 L855.7,2178.1 L859.4,2179.7 L863.1,2181.2 L866.8,2182.8 L870.5,2184.4 L874.2,2185.9 L877.9,2187.5 L881.6,2189.1 L885.2,2190.7 L888.9,2192.3 L892.6,2193.8 L896.3,2195.4 L900.0,2197.0 L903.6,2198.6 L907.3,2200.2 L911.0,2201.7 L914.7,2203.3 L918.4,2204.9 L922.0,2206.5 L925.7,2208.1 L929.4,2209.6 L933.0,2211.2 L936.7,2212.8 L940.3,2214.4 L944.0,2216.1 L947.6,2217.7 L951.3,2219.3 L954.9,2220.9 L958.5,2222.6 L962.2,2224.3 L965.8,2225.9 L969.4,2227.6 L973.0,2229.3 L976.6,2231.0 L980.2,2232.7 L983.8,2234.5 L987.4,2236.2 L990.9,2238.0 L994.5,2239.8 L998.0,2241.6 L1001.6,2243.4 L1005.1,2245.2 L1008.6,2247.1 L1012.1,2248.9 L1015.6,2250.8 L1019.1,2252.8 L1022.6,2254.7 L1026.1,2256.7 L1029.5,2258.7 L1033.0,2260.7 L1036.4,2262.7 L1039.8,2264.7 L1043.2,2266.8 L1046.6,2268.9 L1050.0,2271.0 L1053.4,2273.1 L1056.8,2275.2 L1060.2,2277.4 L1063.5,2279.6 L1066.9,2281.7 L1070.2,2283.9 L1073.6,2286.1 L1076.9,2288.3 L1080.3,2290.6 L1083.6,2292.8 L1086.9,2295.0 L1090.2,2297.3 L1093.5,2299.6 L1096.8,2301.8 L1100.1,2304.1 L1103.4,2306.4 L1106.7,2308.7 L1110.0,2311.0 L1113.3,2313.3 L1116.6,2315.6 L1119.9,2317.9 L1123.2,2320.2 L1126.5,2322.5 L1129.7,2324.8 L1133.0,2327.1 L1136.3,2329.4 L1139.6,2331.7 L1142.9,2334.0 L1146.1,2336.3 L1149.4,2338.6 L1152.7,2340.9 L1156.0,2343.2 L1159.2,2345.5 L1162.5,2347.8 L1165.8,2350.2 L1169.0,2352.5 L1172.3,2354.8 L1175.6,2357.1 L1178.8,2359.5 L1182.1,2361.8 L1185.3,2364.1 L1188.5,2366.5 L1191.8,2368.8 L1195.0,2371.2 L1198.2,2373.6 L1201.4,2375.9 L1204.6,2378.3 L1207.8,2380.7 L1211.0,2383.1 L1214.2,2385.5 L1217.4,2387.9 L1220.6,2390.4 L1223.7,2392.8 L1226.9,2395.3 L1230.0,2397.7 L1233.2,2400.2 L1236.3,2402.7 L1239.4,2405.2 L1242.5,2407.7 L1245.6,2410.2 L1248.7,2412.7 L1251.8,2415.3 L1254.9,2417.8 L1257.9,2420.4 L1260.9,2423.0 L1264.0,2425.6 L1267.0,2428.2 L1270.0,2430.9 L1273.0,2433.5 L1276.0,2436.2 L1278.9,2438.8 L1281.9,2441.5 L1284.8,2444.2 L1287.7,2447.0 L1290.7,2449.7 L1293.5,2452.5 L1296.4,2455.2 L1299.3,2458.0 L1302.1,2460.8 L1304.9,2463.7 L1307.7,2466.5 L1310.5,2469.3 L1313.3,2472.2 L1316.1,2475.1 L1318.8,2478.0 L1321.5,2480.9 L1324.2,2483.9 L1326.9,2486.8 L1329.5,2489.8 L1332.2,2492.8 L1334.8,2495.8 L1337.4,2498.8 L1340.0,2501.9 L1342.5,2504.9 L1345.0,2508.0 L1347.5,2511.1 L1350.0,2514.2 L1352.5,2517.4 L1354.9,2520.5 L1357.3,2523.7 L1359.7,2526.9 L1362.1,2530.1 L1364.4,2533.4 L1366.7,2536.6 L1369.0,2539.9 L1371.3,2543.2 L1373.5,2546.5 L1375.7,2549.9 L1377.9,2553.2 L1380.1,2556.6 L1382.2,2560.0 L1384.3,2563.4 L1386.4,2566.8 L1388.4,2570.3 L1390.4,2573.7 L1392.5,2577.2 L1394.4,2580.7 L1396.4,2584.2 L1398.3,2587.8 L1400.3,2591.3 L1402.1,2594.9 L1404.0,2598.4 L1405.9,2602.0 L1407.7,2605.6 L1409.5,2609.2 L1411.3,2612.8 L1413.1,2616.4 L1414.9,2620.0 L1416.6,2623.7 L1418.3,2627.3 L1420.1,2631.0 L1421.8,2634.6 L1423.4,2638.3 L1425.1,2642.0 L1426.8,2645.6 L1428.4,2649.3 L1430.0,2653.0 L1431.7,2656.7 L1433.3,2660.4 L1434.8,2664.1 L1436.4,2667.7 L1438.0,2671.4 L1439.5,2675.1 L1441.1,2678.8 L1442.6,2682.6 L1444.1,2686.3 L1445.6,2690.0 L1447.1,2693.7 L1448.6,2697.4 L1450.1,2701.1 L1451.6,2704.8 L1453.0,2708.6 L1454.4,2712.3 L1455.9,2716.0 L1457.3,2719.8 L1458.7,2723.5 L1460.1,2727.2 L1461.5,2731.0 L1462.9,2734.7 L1464.3,2738.5 L1465.6,2742.2 L1467.0,2746.0 L1468.3,2749.7 L1469.6,2753.5 L1471.0,2757.2 L1472.3,2761.0 L1473.6,2764.8 L1474.9,2768.5 L1476.2,2772.3 L1477.5,2776.1 L1478.8,2779.8 L1480.0,2783.6 L1481.3,2787.4 L1482.5,2791.2 L1483.8,2794.9 L1485.0,2798.7 L1486.3,2802.5 L1487.5,2806.3 L1488.7,2810.1 L1489.9,2813.9 L1491.1,2817.7 L1492.3,2821.5 L1493.5,2825.3 L1494.7,2829.1 L1495.9,2832.9 L1497.1,2836.7 L1498.3,2840.5 L1499.4,2844.3 L1500.6,2848.1 L1501.7,2851.9 L1502.9,2855.7 L1504.0,2859.5 L1505.2,2863.3 L1506.3,2867.1 L1507.5,2870.9 L1508.6,2874.8 L1509.7,2878.6 L1510.8,2882.4 L1511.9,2886.2 L1513.1,2890.0 L1514.2,2893.9 L1515.3,2897.7 L1516.4,2901.5 L1517.5,2905.4 L1518.6,2909.2 L1519.7,2913.0 L1520.8,2916.8 L1521.9,2920.7 L1523.0,2924.5 L1524.1,2928.3 L1525.1,2932.2 L1526.2,2936.0 L1527.3,2939.9 L1528.4,2943.7 L1529.5,2947.5 L1530.6,2951.4 L1531.6,2955.2 L1532.7,2959.1 L1533.8,2962.9 L1534.9,2966.7 L1535.9,2970.6 L1537.0,2974.4 L1538.1,2978.3 L1539.2,2982.1 L1540.2,2986.0 L1541.3,2989.8 L1542.4,2993.7 L1543.5,2997.5 L1544.6,3001.4 L1545.6,3005.2 L1546.7,3009.1 L1547.8,3012.9 L1548.9,3016.8 L1550.0,3020.6 L1551.1,3024.5 L1552.1,3028.3 L1553.2,3032.2 L1554.3,3036.0 L1555.4,3039.9 L1556.5,3043.7 L1557.6,3047.6 L1558.7,3051.4 L1559.8,3055.3 L1560.9,3059.1 L1562.1,3063.0 L1563.2,3066.9 L1564.3,3070.7 L1565.4,3074.6 L1566.5,3078.4 L1567.7,3082.3 L1568.8,3086.1 L1570.0,3090.0 L1571.1,3093.8 L1572.2,3097.7 L1573.4,3101.5 L1574.6,3105.4 L1575.7,3109.2 L1576.9,3113.1 L1578.1,3116.9 L1579.2,3120.8 L1580.4,3124.6 L1581.6,3128.5 L1582.8,3132.3 L1584.0,3136.2 L1585.2,3140.0 L1586.4,3143.9 L1587.7,3147.7 L1588.9,3151.5 L1590.1,3155.4 L1591.4,3159.2 L1592.6,3163.1 L1593.9,3166.9 L1595.2,3170.8 L1596.4,3174.6 L1597.7,3178.4 L1599.0,3182.3 L1600.3,3186.1 L1601.6,3189.9 L1602.9,3193.8 L1604.2,3197.6 L1605.6,3201.4 L1606.9,3205.3 L1608.3,3209.1 L1609.7,3212.9 L1611.1,3216.6 L1612.6,3220.4 L1614.1,3224.1 L1615.7,3227.8 L1617.3,3231.4 L1619.0,3235.0 L1620.7,3238.5 L1622.6,3242.0 L1624.5,3245.5 L1626.4,3248.8 L1628.5,3252.2 L1630.6,3255.4 L1632.8,3258.6 L1635.2,3261.7 L1637.6,3264.7 L1640.2,3267.6 L1642.8,3270.5 L1645.6,3273.2 L1648.5,3275.8 L1651.6,3278.4 L1654.7,3280.8 L1658.0,3283.1 L1661.3,3285.3 L1664.8,3287.3 L1668.3,3289.1 L1671.9,3290.8 L1675.6,3292.3 L1679.4,3293.6 L1683.2,3294.7 L1687.0,3295.6 L1690.9,3296.3 L1694.9,3296.7 L1698.8,3297.0 L1702.8,3297.1 L1706.8,3297.1 L1710.8,3297.0 L1714.9,3296.7 L1718.9,3296.4 L1723.0,3296.1 L1727.1,3295.7 L1731.2,3295.2 L1735.3,3294.8 L1739.3,3294.5 L1743.4,3294.1 L1747.5,3293.9 L1751.5,3293.7 L1755.6,3293.7 L1759.6,3293.7 L1763.6,3293.9 L1767.6,3294.1 L1771.6,3294.4 L1775.5,3294.7 L1779.5,3295.1 L1783.5,3295.6 L1787.4,3296.0 L1791.4,3296.5 L1795.3,3297.0 L1799.3,3297.4 L1803.2,3297.9 L1807.2,3298.3 L1811.2,3298.8 L1815.1,3299.2 L1819.1,3299.6 L1823.0,3300.0 L1827.0,3300.3 L1831.0,3300.7 L1834.9,3301.0 L1838.9,3301.3 L1842.9,3301.7 L1846.8,3301.9 L1850.8,3302.2 L1854.8,3302.4 L1858.7,3302.7 L1862.7,3302.9 L1866.7,3303.1 L1870.7,3303.2 L1874.6,3303.4 L1878.6,3303.5 L1882.6,3303.6 L1886.6,3303.6 L1890.5,3303.7 L1894.5,3303.7 L1898.5,3303.7 L1902.5,3303.6 L1906.5,3303.6 L1910.4,3303.5 L1914.4,3303.4 L1918.4,3303.2 L1922.4,3303.0 L1926.4,3302.8 L1930.4,3302.6 L1934.3,3302.3 L1938.3,3302.1 L1942.3,3301.7 L1946.3,3301.4 L1950.3,3301.1 L1954.3,3300.7 L1958.3,3300.3 L1962.2,3299.9 L1966.2,3299.5 L1970.2,3299.0 L1974.2,3298.6 L1978.2,3298.1 L1982.2,3297.6 L1986.2,3297.2 L1990.2,3296.7 L1994.1,3296.2 L1998.1,3295.6 L2002.1,3295.1 L2006.1,3294.6 L2010.1,3294.1 L2014.1,3293.6 L2018.1,3293.1 L2022.0,3292.5 L2026.0,3292.0 L2030.0,3291.5 L2034.0,3291.0 L2038.0,3290.5 L2042.0,3290.0 L2046.0,3289.5 L2049.9,3289.0 L2053.9,3288.6 L2057.9,3288.1 L2061.9,3287.7 L2065.9,3287.3 L2069.8,3286.8 L2073.8,3286.5 L2077.8,3286.1 L2081.8,3285.7 L2085.8,3285.4 L2089.7,3285.1 L2093.7,3284.8 L2097.7,3284.5 L2101.6,3284.3 L2105.6,3284.1 L2109.6,3283.9 L2113.6,3283.8 L2117.5,3283.7 L2121.5,3283.6 L2125.5,3283.5 L2129.4,3283.5 L2133.4,3283.5 L2137.4,3283.6 L2141.3,3283.7 L2145.3,3283.8 L2149.2,3284.0 L2153.2,3284.2 L2157.1,3284.5 L2161.1,3284.8 L2165.1,3285.2 L2169.0,3285.6 L2173.0,3286.0 L2176.9,3286.5 L2180.9,3287.1 L2184.8,3287.7 L2188.7,3288.4 L2192.7,3289.1 L2196.6,3289.8 L2200.6,3290.7 L2204.5,3291.6 L2208.4,3292.5 L2212.4,3293.5 L2216.3,3294.6 L2220.2,3295.7 L2224.2,3296.9 L2228.1,3298.2 L2232.0,3299.5" fill="none" stroke="#000" stroke-width="10.5" stroke-linejoin="round"/>
<rect x="315.0" y="1969.5" width="1922.0" height="1497.0" fill="none" stroke="#000" stroke-width="10.5"/>
<g font-family="Liberation Serif, Times New Roman, serif" fill="#000">
<text transform="translate(233.29,1627.00) scale(0.9700,1)"><tspan font-weight="bold" font-size="93" dy="0">0</tspan></text>
<text transform="translate(188.67,1336.72) scale(0.9700,1)"><tspan font-weight="bold" font-size="93" dy="0">20</tspan></text>
<text transform="translate(188.67,1046.44) scale(0.9700,1)"><tspan font-weight="bold" font-size="93" dy="0">40</tspan></text>
<text transform="translate(188.67,756.16) scale(0.9700,1)"><tspan font-weight="bold" font-size="93" dy="0">60</tspan></text>
<text transform="translate(188.67,465.88) scale(0.9700,1)"><tspan font-weight="bold" font-size="93" dy="0">80</tspan></text>
<text transform="translate(143.08,175.60) scale(0.9700,1)"><tspan font-weight="bold" font-size="93" dy="0">100</tspan></text>
<text transform="translate(391.52,1706.50) scale(0.9700,1)"><tspan font-weight="bold" font-size="93" dy="0">200</tspan></text>
<text transform="translate(691.37,1706.50) scale(0.9700,1)"><tspan font-weight="bold" font-size="93" dy="0">300</tspan></text>
<text transform="translate(992.67,1706.50) scale(0.9700,1)"><tspan font-weight="bold" font-size="93" dy="0">400</tspan></text>
<text transform="translate(1291.06,1706.50) scale(0.9700,1)"><tspan font-weight="bold" font-size="93" dy="0">500</tspan></text>
<text transform="translate(1591.39,1706.50) scale(0.9700,1)"><tspan font-weight="bold" font-size="93" dy="0">600</tspan></text>
<text transform="translate(1890.27,1706.50) scale(0.9700,1)"><tspan font-weight="bold" font-size="93" dy="0">700</tspan></text>
<text transform="translate(2191.09,1706.50) scale(0.9700,1)"><tspan font-weight="bold" font-size="93" dy="0">800</tspan></text>
<text transform="translate(233.48,3371.50) scale(0.9800,1)"><tspan font-weight="bold" font-size="106" dy="0">0</tspan></text>
<text transform="translate(181.54,3122.00) scale(0.9800,1)"><tspan font-weight="bold" font-size="106" dy="0">20</tspan></text>
<text transform="translate(181.54,2872.50) scale(0.9800,1)"><tspan font-weight="bold" font-size="106" dy="0">40</tspan></text>
<text transform="translate(181.54,2623.00) scale(0.9800,1)"><tspan font-weight="bold" font-size="106" dy="0">60</tspan></text>
<text transform="translate(181.54,2373.50) scale(0.9800,1)"><tspan font-weight="bold" font-size="106" dy="0">80</tspan></text>
<text transform="translate(129.60,2124.00) scale(0.9800,1)"><tspan font-weight="bold" font-size="106" dy="0">100</tspan></text>
<text transform="translate(384.94,3584.50) scale(0.9800,1)"><tspan font-weight="bold" font-size="106" dy="0">200</tspan></text>
<text transform="translate(680.63,3584.50) scale(0.9800,1)"><tspan font-weight="bold" font-size="106" dy="0">300</tspan></text>
<text transform="translate(977.79,3584.50) scale(0.9800,1)"><tspan font-weight="bold" font-size="106" dy="0">400</tspan></text>
<text transform="translate(1272.01,3584.50) scale(0.9800,1)"><tspan font-weight="bold" font-size="106" dy="0">500</tspan></text>
<text transform="translate(1567.71,3584.50) scale(0.9800,1)"><tspan font-weight="bold" font-size="106" dy="0">600</tspan></text>
<text transform="translate(1862.42,3584.50) scale(0.9800,1)"><tspan font-weight="bold" font-size="106" dy="0">700</tspan></text>
<text transform="translate(2159.09,3584.50) scale(0.9800,1)"><tspan font-weight="bold" font-size="106" dy="0">800</tspan></text>
<text transform="translate(952.04,1822.60) scale(0.9649,1)"><tspan font-weight="bold" font-size="93" dy="0">Temperature</tspan></text>
<text transform="translate(1472.90,1821.00) scale(1.0750,1)"><tspan font-weight="normal" font-size="80" dy="0">(</tspan></text>
<text transform="translate(1497.11,1822.00) scale(1.0222,1)"><tspan font-weight="normal" font-size="88" dy="0">°</tspan></text>
<text transform="translate(1531.45,1820.80) scale(1.0367,1)"><tspan font-weight="bold" font-size="82" dy="0">C</tspan></text>
<text transform="translate(1588.28,1821.00) scale(1.0750,1)"><tspan font-weight="normal" font-size="80" dy="0">)</tspan></text>
<text transform="translate(886.24,3710.00) scale(0.9798,1)"><tspan font-weight="bold" font-size="107" dy="0">Temperature</tspan></text>
<text transform="translate(1492.48,3711.20) scale(1.1037,1)"><tspan font-weight="normal" font-size="107" dy="0">(</tspan></text>
<text transform="translate(1526.97,3712.50) scale(0.9571,1)"><tspan font-weight="normal" font-size="90" dy="0">°</tspan></text>
<text transform="translate(1559.69,3711.30) scale(0.9627,1)"><tspan font-weight="bold" font-size="111" dy="0">C</tspan></text>
<text transform="translate(1633.82,3711.20) scale(1.0607,1)"><tspan font-weight="normal" font-size="107" dy="0">)</tspan></text>
<text transform="translate(104.70,1039.68) rotate(-90) scale(0.9844,1)"><tspan font-weight="bold" font-size="91" dy="0">TG</tspan></text>
<text transform="translate(103.50,883.18) rotate(-90) scale(1.2190,1)"><tspan font-weight="normal" font-size="84" dy="0">(</tspan></text>
<text transform="translate(103.80,854.88) rotate(-90) scale(1.1085,1)"><tspan font-weight="bold" font-size="88" dy="0">%</tspan></text>
<text transform="translate(103.50,761.34) rotate(-90) scale(1.3143,1)"><tspan font-weight="normal" font-size="84" dy="0">)</tspan></text>
<text transform="translate(103.80,2876.70) rotate(-90) scale(1.0514,1)"><tspan font-weight="bold" font-size="103" dy="0">TG</tspan></text>
<text transform="translate(104.90,2695.02) rotate(-90) scale(1.2538,1)"><tspan font-weight="normal" font-size="101" dy="0">(</tspan></text>
<text transform="translate(103.30,2661.01) rotate(-90) scale(1.1407,1)"><tspan font-weight="bold" font-size="100" dy="0">%</tspan></text>
<text transform="translate(104.90,2551.88) rotate(-90) scale(1.2269,1)"><tspan font-weight="normal" font-size="101" dy="0">)</tspan></text>
<text transform="translate(35.40,92.50) scale(0.9760,1)"><tspan font-weight="normal" font-size="96" dy="0">(</tspan></text>
<text transform="translate(67.72,93.00) scale(0.9591,1)"><tspan font-weight="bold" font-size="97" dy="0">a</tspan></text>
<text transform="translate(113.16,92.50) scale(1.0120,1)"><tspan font-weight="normal" font-size="96" dy="0">)</tspan></text>
<text transform="translate(20.66,2007.00) scale(0.9889,1)"><tspan font-weight="normal" font-size="105" dy="0">(</tspan></text>
<text transform="translate(55.46,2006.50) scale(0.9407,1)"><tspan font-weight="bold" font-size="106" dy="0">b</tspan></text>
<text transform="translate(110.22,2007.00) scale(1.0926,1)"><tspan font-weight="normal" font-size="105" dy="0">)</tspan></text>
<text transform="translate(1546.06,175.20) scale(0.9392,1)"><tspan font-weight="bold" font-size="80" dy="0">Fresh Zn(OAc)</tspan><tspan font-weight="bold" font-size="46" dy="27">2</tspan><tspan font-weight="bold" font-size="80" dy="-27">/AC</tspan></text>
<text transform="translate(1548.13,295.50) scale(0.9352,1)"><tspan font-weight="bold" font-size="80" dy="0">Used Zn(OAc)</tspan><tspan font-weight="bold" font-size="46" dy="27">2</tspan><tspan font-weight="bold" font-size="80" dy="-27">/AC</tspan></text>
<text transform="translate(1379.96,2097.70) scale(0.9457,1)"><tspan font-weight="bold" font-size="102" dy="0">Used Zn1Co0.3/AC</tspan></text>
<text transform="translate(1379.51,2222.80) scale(0.9471,1)"><tspan font-weight="bold" font-size="102" dy="0">Fresh Zn1Co0.3/AC</tspan></text>
</g>
<g stroke-width="10.6" stroke-linecap="round">
<line x1="1360" y1="148.4" x2="1525" y2="148.4" stroke="#000"/>
<line x1="1360" y1="268.8" x2="1525" y2="268.8" stroke="#e00a0c"/>
<line x1="1181.5" y1="2070.7" x2="1350.5" y2="2070.7" stroke="#e00a0c"/>
<line x1="1181.5" y1="2196.3" x2="1350.5" y2="2196.3" stroke="#000"/>
</g>
</svg>
</body></html>
